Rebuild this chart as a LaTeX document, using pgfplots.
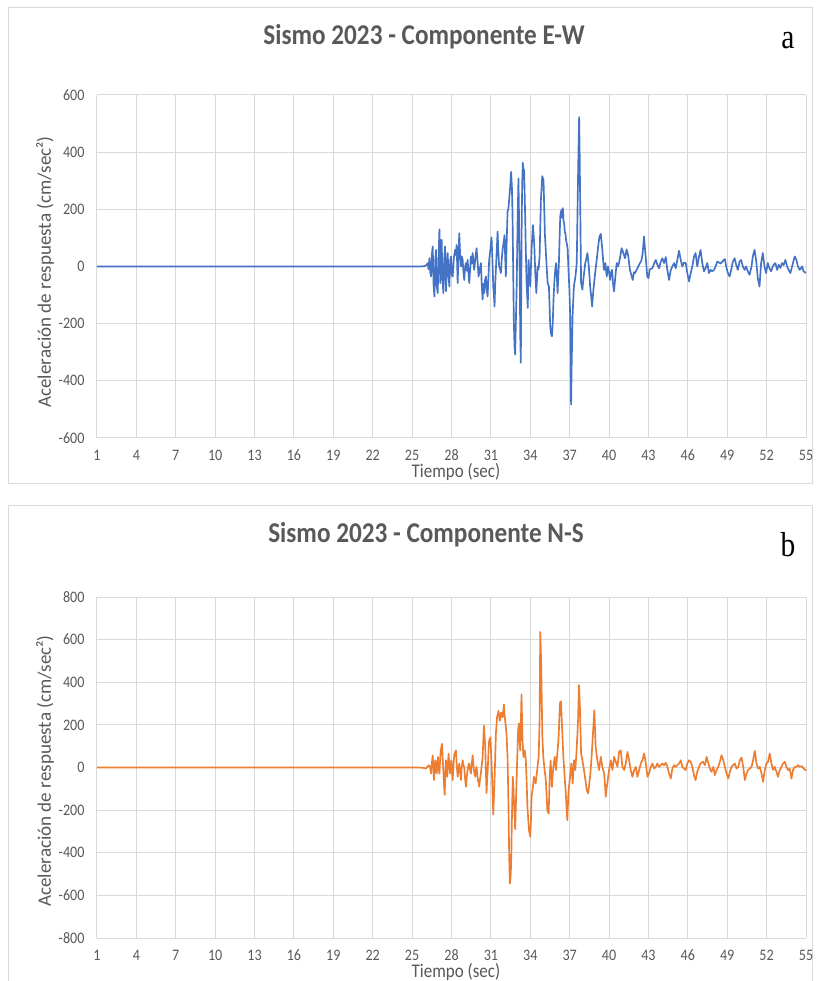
\documentclass[border=0pt]{standalone}
\usepackage{pgfplots}
\pgfplotsset{compat=1.18}
\usepackage{fontspec}
\setmainfont{Carlito}
\newfontfamily\timesf{Liberation Serif}
\definecolor{txt}{HTML}{595959}
\definecolor{grd}{HTML}{D9D9D9}
\definecolor{fr}{HTML}{D9D9D9}
\definecolor{bl}{HTML}{4472C4}
\definecolor{og}{HTML}{ED7D31}
\pgfplotsset{ex/.style={
  scale only axis, width=531.75pt,
  xmin=1, xmax=55, xtick={1,4,...,55},
  grid=major, major grid style={grd, line width=0.75pt},
  axis line style={draw=none},
  major tick length=0pt, tick style={draw=none},
  ticklabel style={font=\fontsize{12}{13}\selectfont, text=txt, xscale=0.88},
  /pgf/number format/assume math mode=true,
  xticklabel style={anchor=base, yshift=-17pt},
  yticklabel style={anchor=east, inner sep=0pt, xshift=-10.5pt},
}}
\begin{document}
\begin{tikzpicture}
\useasboundingbox (0,0) rectangle (612.75pt,735.75pt);
\fill[white] (0,0) rectangle (612.75pt,735.75pt);
% frames
\draw[fr, line width=0.75pt] (6pt,372.75pt) rectangle (609pt,729.75pt);
\draw[fr, line width=0.75pt] (6pt,-2pt) -- (6pt,356.25pt) -- (609pt,356.25pt) -- (609pt,-2pt);
% titles
\node[text=txt, font=\fontsize{21.5}{23}\selectfont\bfseries, xscale=0.88] at (318pt,708pt) {Sismo 2023 - Componente E-W};
\node[text=txt, font=\fontsize{21.5}{23}\selectfont\bfseries, xscale=0.88] at (319.5pt,334.5pt) {Sismo 2023 - Componente N-S};
\node[font=\fontsize{26}{28}\selectfont\timesf, xscale=0.85] at (591pt,705pt) {a};
\node[font=\fontsize{26}{28}\selectfont\timesf, xscale=0.85] at (591pt,327.5pt) {b};
% axis labels
\node[text=txt, font=\fontsize{14.5}{16}\selectfont, xscale=0.88] at (342pt,381.75pt) {Tiempo (sec)};
\node[text=txt, font=\fontsize{14.5}{16}\selectfont, xscale=0.88] at (342pt,7pt) {Tiempo (sec)};
\node[text=txt, font=\fontsize{14.3}{16}\selectfont, rotate=90] at (33.75pt,531.75pt) {Aceleración de respuesta (cm/sec²)};
\node[text=txt, font=\fontsize{14.3}{16}\selectfont, rotate=90] at (33.75pt,157.5pt) {Aceleración de respuesta (cm/sec²)};

\begin{axis}[ex, at={(72.75pt,407.25pt)}, anchor=south west, height=257.25pt,
  ymin=-600, ymax=600, ytick={-600,-400,...,600}]
\addplot[bl, line width=1.25pt, line join=round] table[x=t,y=v] {
t v
1 0
25.5 0
25.94 1
26.10 6
26.19 12
26.25 -10
26.32 29
26.38 -20
26.44 -35
26.50 40
26.57 70
26.63 -60
26.70 -105
26.76 20
26.82 58
26.88 -70
26.95 -93
27.02 40
27.08 130
27.12 60
27.15 -58
27.20 10
27.25 93
27.31 -40
27.38 -93
27.44 20
27.51 70
27.55 -30
27.58 -87
27.65 10
27.71 47
27.78 -40
27.84 -70
27.90 20
27.96 35
28.03 -30
28.09 -35
28.18 30
28.27 58
28.33 40
28.39 76
28.43 10
28.47 -58
28.53 30
28.59 116
28.66 40
28.72 0
28.78 35
28.85 23
28.91 -20
28.97 -47
29.04 0
29.10 12
29.17 -15
29.23 23
29.29 -20
29.35 -58
29.42 -10
29.48 35
29.55 10
29.61 47
29.67 20
29.73 -12
29.82 30
29.91 64
29.98 20
30.06 -35
30.15 -10
30.24 12
30.30 -60
30.37 -116
30.43 -60
30.49 -93
30.55 -50
30.62 -35
30.68 -80
30.75 -105
30.81 -40
30.87 23
30.96 60
31.05 102
31.12 20
31.18 -70
31.23 -100
31.28 -140
31.33 -60
31.38 -12
31.45 60
31.51 122
31.57 50
31.63 0
31.70 -10
31.76 -23
31.82 20
31.89 58
31.96 80
32.04 110
32.09 30
32.14 -35
32.20 80
32.27 192
32.33 200
32.39 233
32.47 280
32.54 331
32.60 280
32.65 174
32.70 -20
32.75 -198
32.80 -280
32.85 -308
32.90 -200
32.97 -58
33.03 150
33.10 308
33.15 150
33.20 -58
33.24 -250
33.28 -337
33.31 -100
33.35 174
33.39 300
33.43 363
33.48 340
33.53 337
33.60 200
33.66 58
33.72 -60
33.81 -145
33.87 23
33.93 -30
34.00 -70
34.10 60
34.20 145
34.30 81
34.38 -20
34.46 -93
34.56 0
34.63 -10
34.71 35
34.81 233
34.91 316
35.01 302
35.11 116
35.22 23
35.32 -58
35.42 -70
35.52 -209
35.58 -235
35.65 -244
35.71 -200
35.77 -116
35.84 -50
35.90 -12
35.97 12
36.03 -40
36.08 -93
36.13 -40
36.18 12
36.28 174
36.33 190
36.38 198
36.43 170
36.48 204
36.53 160
36.58 151
36.63 120
36.68 116
36.73 90
36.78 81
36.85 60
36.91 -12
36.98 -80
37.04 -174
37.08 -350
37.11 -483
37.15 -350
37.22 -174
37.32 -70
37.44 -35
37.54 12
37.60 200
37.65 349
37.72 523
37.76 400
37.80 233
37.87 -58
37.97 -81
38.03 -50
38.10 -23
38.18 10
38.25 23
38.35 47
38.46 0
38.56 -70
38.65 -110
38.71 -140
38.76 -110
38.81 -81
38.94 -23
39.06 23
39.17 70
39.27 105
39.37 114
39.49 58
39.55 20
39.62 -12
39.72 12
39.82 -35
39.92 0
40.00 -20
40.08 -47
40.15 -20
40.23 -12
40.30 -60
40.38 -87
40.48 -35
40.58 12
40.68 0
40.78 17
40.87 40
40.96 64
41.09 47
41.22 29
41.34 60
41.47 35
41.59 -12
41.70 -30
41.80 -47
41.90 -20
41.97 -23
42.10 -12
42.22 0
42.35 12
42.46 20
42.56 47
42.66 105
42.74 60
42.81 23
42.91 -35
43.00 -41
43.10 -10
43.30 -6
43.43 10
43.56 23
43.68 6
43.81 -6
43.94 17
44.06 29
44.19 12
44.32 33
44.44 -12
44.57 -47
44.70 -12
44.82 0
44.95 12
45.08 -6
45.20 23
45.33 55
45.46 23
45.58 0
45.71 14
45.84 12
45.96 -23
46.09 -52
46.22 -23
46.34 0
46.47 35
46.59 47
46.72 0
46.85 35
46.97 58
47.10 12
47.23 -17
47.35 -6
47.48 12
47.61 -23
47.73 -12
47.86 -17
47.99 -12
48.11 0
48.24 17
48.37 14
48.50 10
48.62 17
48.82 26
48.92 0
49.05 -23
49.18 -35
49.30 -12
49.43 17
49.56 29
49.68 6
49.81 -12
49.94 17
50.06 23
50.19 0
50.32 -12
50.44 0
50.57 -17
50.70 -29
50.85 0
50.95 35
51.08 58
51.20 23
51.33 -41
51.46 -70
51.58 12
51.71 47
51.84 0
51.96 -23
52.09 12
52.22 -6
52.34 -17
52.47 0
52.57 8
52.67 12
52.80 -12
52.92 6
53.05 -5
53.18 12
53.30 5
53.43 23
53.56 0
53.68 -12
53.81 -23
53.94 0
54.14 35
54.27 23
54.39 0
54.52 -12
54.70 0
54.82 -17
55.00 -23
};
\end{axis}

\begin{axis}[ex, at={(72.75pt,32.25pt)}, anchor=south west, height=255.75pt,
  ymin=-800, ymax=800, ytick={-800,-600,...,800}]
\addplot[og, line width=1.25pt, line join=round] table[x=t,y=v] {
t v
1 0
25.5 0
25.9 -2
26.06 -5
26.17 3
26.27 11
26.37 3
26.44 -28
26.50 20
26.57 57
26.62 -10
26.67 -59
26.72 10
26.77 34
26.82 -20
26.87 -28
26.92 20
26.97 49
27.02 -10
27.08 -28
27.13 30
27.18 80
27.28 111
27.33 40
27.38 -12
27.43 -80
27.48 -128
27.53 -30
27.58 34
27.63 -20
27.68 -43
27.73 20
27.78 65
27.84 10
27.89 -28
27.94 10
27.99 34
28.04 -20
28.09 -59
28.16 20
28.22 65
28.34 80
28.40 10
28.47 -43
28.53 -10
28.59 19
28.66 -20
28.72 -59
28.78 0
28.85 34
28.91 10
28.97 3
29.03 -50
29.10 -90
29.17 -40
29.23 -12
29.29 10
29.35 19
29.42 -10
29.48 -28
29.55 20
29.61 57
29.66 20
29.71 -12
29.76 -30
29.81 -43
29.86 -10
29.91 3
29.96 -30
30.01 -59
30.06 -70
30.11 -90
30.18 -50
30.24 -28
30.30 10
30.37 49
30.47 196
30.52 150
30.57 96
30.62 -20
30.67 -120
30.72 -50
30.77 3
30.82 80
30.87 127
30.97 142
31.02 60
31.08 -28
31.13 -120
31.18 -221
31.23 -140
31.28 -59
31.33 50
31.38 157
31.43 200
31.48 242
31.53 250
31.58 266
31.63 240
31.68 219
31.73 240
31.78 258
31.83 245
31.89 235
31.94 260
31.99 296
32.04 250
32.09 219
32.14 190
32.19 157
32.27 49
32.34 -182
32.39 -400
32.44 -545
32.48 -530
32.52 -491
32.56 -400
32.59 -275
32.63 -150
32.67 -43
32.72 -100
32.77 -182
32.85 -290
32.92 -136
33.00 34
33.08 181
33.15 207
33.23 80
33.28 200
33.33 343
33.37 240
33.41 127
33.48 49
33.58 80
33.66 34
33.72 -60
33.78 -182
33.84 -240
33.90 -294
34.00 -325
34.05 -250
34.10 -137
34.20 -91
34.28 -44
34.35 -60
34.41 -75
34.47 -40
34.53 -12
34.58 20
34.64 50
34.71 222
34.76 636
34.80 560
34.84 456
34.92 144
34.99 50
35.04 20
35.09 -12
35.15 -40
35.20 -75
35.25 -140
35.30 -200
35.35 -210
35.40 -216
35.48 -44
35.55 34
35.60 -30
35.65 -91
35.70 -40
35.76 3
35.86 50
35.91 20
35.96 -12
36.01 30
36.06 66
36.11 100
36.16 144
36.26 300
36.30 310
36.34 308
36.42 191
36.52 50
36.62 -44
36.67 -90
36.72 -137
36.77 -200
36.82 -247
36.87 -170
36.92 -106
37.03 -44
37.13 19
37.23 -75
37.33 34
37.43 -12
37.53 81
37.64 222
37.71 386
37.75 330
37.79 269
37.87 66
37.97 34
38.09 -12
38.20 -59
38.30 -106
38.40 -122
38.50 -75
38.60 -12
38.68 60
38.76 144
38.88 269
38.93 180
38.98 97
39.11 34
39.24 -12
39.37 50
39.49 3
39.62 -28
39.69 -80
39.75 -137
39.81 -100
39.87 -75
40.00 -12
40.13 34
40.26 -12
40.38 50
40.51 27
40.64 3
40.76 73
40.89 81
41.02 3
41.15 -12
41.27 19
41.40 73
41.53 34
41.65 -12
41.78 -44
41.91 -12
42.04 3
42.16 -44
42.29 -12
42.42 19
42.54 34
42.67 66
42.80 19
42.93 -44
43.05 -28
43.18 3
43.30 19
43.43 -5
43.56 3
43.68 19
43.81 3
43.94 11
44.06 19
44.19 11
44.32 22
44.44 3
44.57 -28
44.70 -52
44.82 -5
44.95 11
45.08 3
45.20 11
45.33 19
45.46 34
45.58 3
45.71 -5
45.84 -12
45.96 19
46.09 34
46.22 27
46.34 3
46.47 -36
46.59 -59
46.72 -20
46.85 3
46.97 19
47.15 27
47.30 11
47.43 50
47.56 19
47.68 -5
47.81 -20
47.94 3
48.06 -36
48.19 -12
48.32 3
48.44 27
48.57 58
48.70 34
48.82 3
48.95 -28
49.08 -52
49.20 -20
49.33 3
49.46 11
49.58 19
49.71 -5
49.84 3
49.96 34
50.09 47
50.22 3
50.34 -59
50.47 -28
50.59 -12
50.72 -5
50.85 3
50.97 34
51.10 78
51.23 19
51.35 -5
51.48 3
51.61 -28
51.73 -67
51.86 -12
51.99 19
52.11 27
52.24 66
52.37 19
52.49 -12
52.62 3
52.75 -20
52.87 -44
53.00 -12
53.13 3
53.25 19
53.38 27
53.51 3
53.63 -12
53.76 -5
53.89 -52
54.01 -12
54.14 3
54.27 3
54.39 11
54.52 3
54.70 6
54.82 -5
54.95 -12
55.00 -12
};
\end{axis}
\end{tikzpicture}
\end{document}
